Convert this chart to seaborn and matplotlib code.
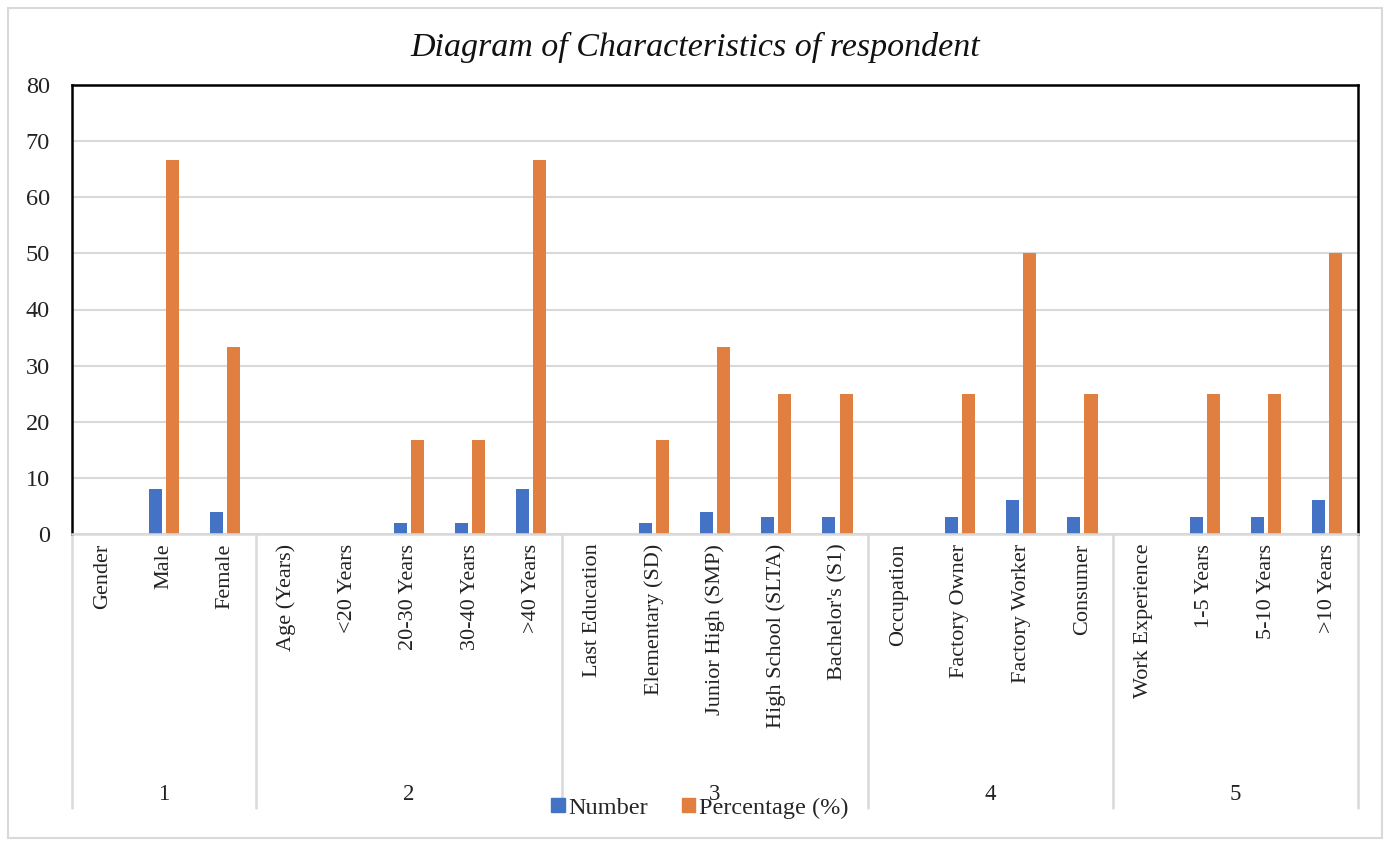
import matplotlib
matplotlib.use("Agg")
import matplotlib.pyplot as plt
import matplotlib.transforms as mtransforms
from matplotlib.patches import Rectangle
import seaborn as sns
import pandas as pd

# ---- data ----
categories = ["Gender", "Male", "Female",
              "Age (Years)", "<20 Years", "20-30 Years", "30-40 Years", ">40 Years",
              "Last Education", "Elementary (SD)", "Junior High (SMP)", "High School (SLTA)", "Bachelor's (S1)",
              "Occupation", "Factory Owner", "Factory Worker", "Consumer",
              "Work Experience", "1-5 Years", "5-10 Years", ">10 Years"]
number = [0, 8, 4,
          0, 0, 2, 2, 8,
          0, 2, 4, 3, 3,
          0, 3, 6, 3,
          0, 3, 3, 6]
percentage = [0, 66.7, 33.3,
              0, 0, 16.7, 16.7, 66.7,
              0, 16.7, 33.3, 25, 25,
              0, 25, 50, 25,
              0, 25, 25, 50]
group_labels = ["1", "2", "3", "4", "5"]
group_sizes = [3, 5, 5, 4, 4]
series_names = ["Number", "Percentage (%)"]
title = "Diagram of Characteristics of respondent"

df = pd.DataFrame({
    "category": categories * 2,
    "value": number + percentage,
    "series": [series_names[0]] * len(categories) + [series_names[1]] * len(categories),
})

colors = ["#4472C4", "#E07F3F"]

sns.set_theme(style="white")
plt.rcParams["font.family"] = ["Liberation Serif", "DejaVu Serif"]

W, H = 1388, 841
fig = plt.figure(figsize=(W / 100, H / 100), dpi=100)
left_px, right_px, top_px, bottom_px = 72, 1358, 85, 534
ax = fig.add_axes([left_px / W, 1 - bottom_px / H,
                   (right_px - left_px) / W, (bottom_px - top_px) / H])

sns.barplot(data=df, x="category", y="value", hue="series", order=categories,
            hue_order=series_names, palette=colors, saturation=1,
            width=0.56, gap=0.24, dodge=True, ax=ax, legend=False, linewidth=0)

ax.set_xlim(-0.5, len(categories) - 0.5)
ax.set_ylim(0, 80)
ax.set_yticks(range(0, 81, 10))
ax.set_xlabel("")
ax.set_ylabel("")
ax.yaxis.grid(True, color="#d9d9d9", linewidth=1.5)
ax.set_axisbelow(True)
ax.tick_params(axis="y", length=0, pad=16, labelsize=17.5, labelcolor="#222222")
ax.tick_params(axis="x", length=0, pad=7, labelsize=16, labelcolor="#222222")
ax.set_xticks(range(len(categories)))
ax.set_xticklabels(categories, rotation=90, ha="center", va="top")

for side in ["top", "left", "right"]:
    ax.spines[side].set_color("black")
    ax.spines[side].set_linewidth(1.8)
ax.spines["bottom"].set_color("#d9d9d9")
ax.spines["bottom"].set_linewidth(1.8)

# multi-level category axis: separators and group labels
trans = mtransforms.blended_transform_factory(ax.transData, ax.transAxes)
sep_y = -(808 - bottom_px) / (bottom_px - top_px)
lab_y = -(795 - bottom_px) / (bottom_px - top_px)
pos = -0.5
bounds = [pos]
for g, n in zip(group_labels, group_sizes):
    ax.text(pos + n / 2, lab_y, g, transform=trans, ha="center", va="center",
            fontsize=16.5, color="#222222")
    pos += n
    bounds.append(pos)
for b in bounds:
    ax.plot([b, b], [0, sep_y], transform=trans, color="#d9d9d9",
            linewidth=1.8, clip_on=False)

# legend
handles = [Rectangle((0, 0), 1, 1, color=c) for c in colors]
fig.legend(handles, series_names, loc="center", bbox_to_anchor=(700 / W, 1 - 808 / H),
           ncol=2, frameon=False, fontsize=17.5, handlelength=0.55, handleheight=0.55,
           handletextpad=0.15, columnspacing=1.4, borderaxespad=0)

# title
fig.text(695 / W, 1 - 47 / H, title, ha="center", va="center",
         fontsize=24.5, fontstyle="italic", color="#111111")

# outer frame
fig.patches.append(Rectangle((8 / W, 1 - 838 / H), (1382 - 8) / W, (838 - 8) / H,
                             transform=fig.transFigure, fill=False,
                             edgecolor="#d9d9d9", linewidth=1.5))

fig.savefig("out.png", dpi=100, facecolor="white")
